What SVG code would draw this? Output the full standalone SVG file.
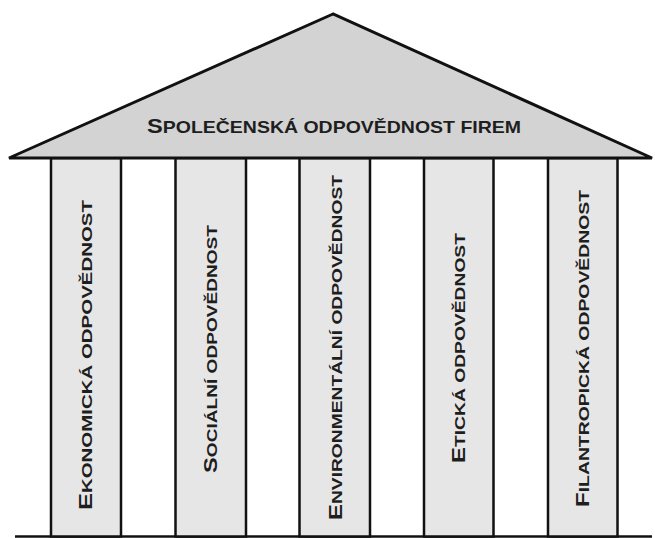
<svg xmlns="http://www.w3.org/2000/svg" width="655" height="538" viewBox="0 0 655 538">
<style>
.roof{fill:#d3d3d3;stroke:#111;stroke-width:3;stroke-linejoin:miter}
.col{fill:#e6e6e6;stroke:#111;stroke-width:2.5}
.lbl{font-family:"Liberation Sans",Arial,sans-serif;font-weight:bold;fill:#1e1e1e}
.big{font-size:18px}
.sm{font-size:14.5px}
.rbig{font-size:20px}
.rsm{font-size:16.5px}
.ground{stroke:#111;stroke-width:2.5;fill:none}
</style>
<rect width="655" height="538" fill="#fff"/>
<g id="connectors">
<line class="ground" x1="15" y1="536.5" x2="652" y2="536.5"/>
</g>
<g id="col1">
<rect class="col" x="51" y="158" width="70" height="378.5"/>
<text class="lbl" transform="translate(92,510) rotate(-90)" textLength="310" lengthAdjust="spacingAndGlyphs"><tspan class="big">E</tspan><tspan class="sm">KONOMICKÁ ODPOVĚDNOST</tspan></text>
</g>
<g id="col2">
<rect class="col" x="175.5" y="158" width="70.5" height="378.5"/>
<text class="lbl" transform="translate(216.5,473) rotate(-90)" textLength="248" lengthAdjust="spacingAndGlyphs"><tspan class="big">S</tspan><tspan class="sm">OCIÁLNÍ ODPOVĚDNOST</tspan></text>
</g>
<g id="col3">
<rect class="col" x="299.5" y="158" width="70.5" height="378.5"/>
<text class="lbl" transform="translate(341.5,520) rotate(-90)" textLength="345" lengthAdjust="spacingAndGlyphs"><tspan class="big">E</tspan><tspan class="sm">NVIRONMENTÁLNÍ ODPOVĚDNOST</tspan></text>
</g>
<g id="col4">
<rect class="col" x="424" y="158" width="69.5" height="378.5"/>
<text class="lbl" transform="translate(464.5,463) rotate(-90)" textLength="230" lengthAdjust="spacingAndGlyphs"><tspan class="big">E</tspan><tspan class="sm">TICKÁ ODPOVĚDNOST</tspan></text>
</g>
<g id="col5">
<rect class="col" x="548" y="158" width="69.5" height="378.5"/>
<text class="lbl" transform="translate(588.5,507) rotate(-90)" textLength="317" lengthAdjust="spacingAndGlyphs"><tspan class="big">F</tspan><tspan class="sm">ILANTROPICKÁ ODPOVĚDNOST</tspan></text>
</g>
<g id="roof">
<polygon class="roof" points="333,14 9,158 652,158"/>
<text class="lbl" x="147" y="133" textLength="374" lengthAdjust="spacingAndGlyphs"><tspan class="rbig">S</tspan><tspan class="rsm">POLEČENSKÁ ODPOVĚDNOST FIREM</tspan></text>
</g>
</svg>
